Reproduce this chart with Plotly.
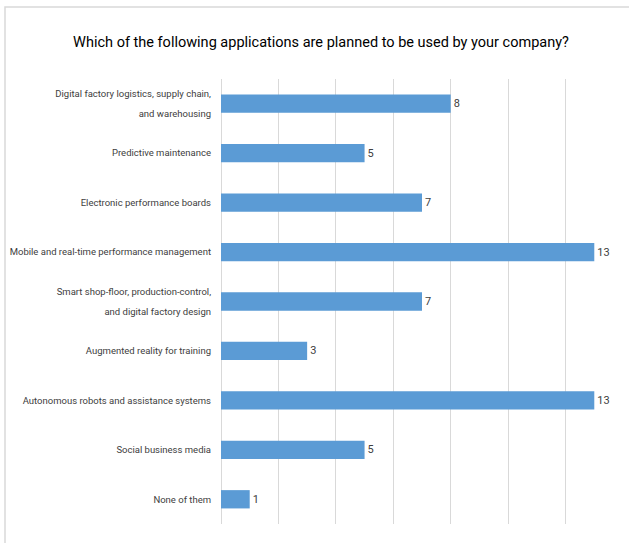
import plotly.graph_objects as go

# Survey answers, listed top to bottom
categories = [
    "Digital factory logistics, supply chain,<br>and warehousing",
    "Predictive maintenance",
    "Electronic performance boards",
    "Mobile and real-time performance management",
    "Smart shop-floor, production-control,<br>and digital factory design",
    "Augmented reality for training",
    "Autonomous robots and assistance systems",
    "Social business media",
    "None of them",
]
counts = [8, 5, 7, 13, 7, 3, 13, 5, 1]

title_text = "Which of the following applications are planned to be used by your company?"

FONT = "Roboto, Liberation Sans, sans-serif"
TEXT_COLOR = "#404040"
BAR_COLOR = "#5B9BD5"
GRID_COLOR = "#D9D9D9"
LABEL_PX = 9.5


def small(label):
    # keep a roomy line height while drawing the glyphs smaller
    return "<br>".join(
        f'<span style="font-size:{LABEL_PX}px">{part}</span>' for part in label.split("<br>")
    )


fig = go.Figure(
    go.Bar(
        x=counts,
        y=categories,
        orientation="h",
        width=0.37,
        marker=dict(color=BAR_COLOR, line=dict(width=0)),
        text=[str(v) for v in counts],
        textposition="outside",
        textfont=dict(family=FONT, size=11, color=TEXT_COLOR),
        cliponaxis=False,
    )
)

W, H = 629, 543
ml, mr, mt, mb = 221, 6, 79, 19

fig.update_layout(
    width=W,
    height=H,
    margin=dict(l=ml, r=mr, t=mt, b=mb, pad=0),
    paper_bgcolor="white",
    plot_bgcolor="white",
    showlegend=False,
    title=dict(
        text=title_text,
        font=dict(family=FONT, size=14.5, color="#000000"),
        x=321 / W,
        xref="container",
        xanchor="center",
        y=1 - 42 / H,
        yref="container",
        yanchor="middle",
    ),
    xaxis=dict(
        range=[0, 14],
        dtick=2,
        tick0=0,
        showgrid=True,
        gridcolor=GRID_COLOR,
        gridwidth=1,
        zeroline=True,
        zerolinecolor=GRID_COLOR,
        zerolinewidth=1,
        showticklabels=False,
        showline=False,
        automargin=False,
        fixedrange=True,
    ),
    yaxis=dict(
        autorange="reversed",
        showgrid=False,
        zeroline=False,
        showline=False,
        ticks="",
        tickmode="array",
        tickvals=categories,
        ticktext=[small(c) for c in categories],
        tickfont=dict(family=FONT, size=15, color=TEXT_COLOR),
        ticklabelstandoff=9,
        ticklabelshift=2,
        automargin=False,
        fixedrange=True,
    ),
)

# Light frame around the chart area (top and left edges are visible)
pw = W - ml - mr
ph = H - mt - mb
fig.add_shape(
    type="rect",
    xref="paper",
    yref="paper",
    x0=(5 - ml) / pw,
    x1=(W + 5 - ml) / pw,
    y0=(-5 - mb) / ph,
    y1=(H - 7 - mb) / ph,
    line=dict(color="#D9D9D9", width=1.5),
    fillcolor="rgba(0,0,0,0)",
    layer="below",
)

fig.write_html("out.html")
